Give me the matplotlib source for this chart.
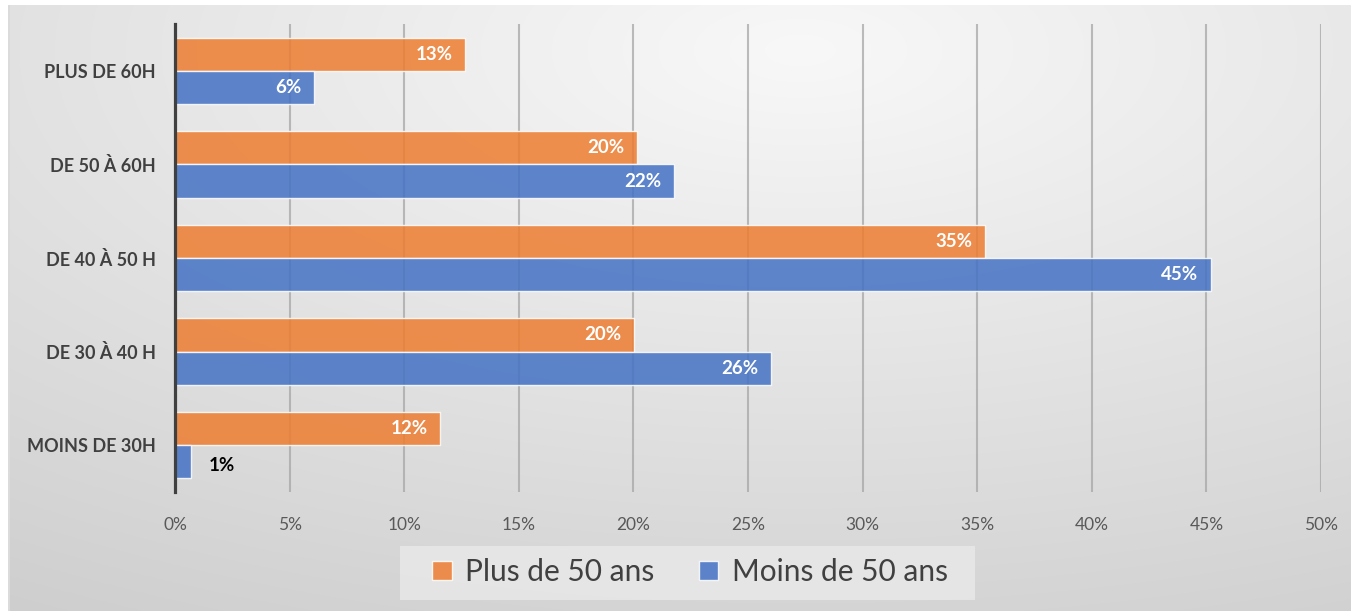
import numpy as np
import matplotlib
matplotlib.use("Agg")
import matplotlib.pyplot as plt
from matplotlib.patches import Rectangle, Patch

categories = ["PLUS DE 60H", "DE 50 À 60H", "DE 40 À 50 H", "DE 30 À 40 H", "MOINS DE 30H"]
plus50 = [12.65, 20.16, 35.34, 20.03, 11.56]
moins50 = [6.07, 21.77, 45.2, 26.0, 0.70]
plus50_labels = ["13%", "20%", "35%", "20%", "12%"]
moins50_labels = ["6%", "22%", "45%", "26%", "1%"]
series_names = ["Plus de 50 ans", "Moins de 50 ans"]
xticks = [0, 5, 10, 15, 20, 25, 30, 35, 40, 45, 50]

plt.rcParams['font.family'] = ['Lato', 'DejaVu Sans']

W, H = 1351, 611
fig = plt.figure(figsize=(W / 100, H / 100), dpi=100)

# background gradient
bg = fig.add_axes([0, 0, 1, 1], zorder=-10)
yy, xx = np.mgrid[0:H, 0:W]
d = np.sqrt(((xx - 800) / 1420.0) ** 2 + ((yy - 50) / 632.0) ** 2)
val = np.clip(248 - 40 * d, 0, 255) / 255.0
val[:, :8] = 1.0
val[:5, :] = 1.0
val[5:, 8:10] = 0.86
img = np.dstack([val, val, val])
bg.imshow(img, aspect='auto', extent=[0, W, H, 0], interpolation='bilinear')
bg.set_xlim(0, W)
bg.set_ylim(H, 0)
bg.axis('off')

ax = fig.add_axes([175 / W, 1 - 492 / H, (1321 - 175) / W, (492 - 24) / H])
ax.patch.set_alpha(0)

y = np.arange(len(categories))
h = 0.355
orange = '#ED7D31'
blue = '#4472C4'
ax.barh(y - h / 2, plus50, height=h, color=orange, alpha=0.85,
        edgecolor=(1, 1, 1, 0.45), linewidth=1.0, zorder=3)
ax.barh(y + h / 2, moins50, height=h, color=blue, alpha=0.85,
        edgecolor=(1, 1, 1, 0.45), linewidth=1.0, zorder=3)

ax.set_xlim(0, 50)
ax.set_ylim(len(categories) - 0.5, -0.5)
ax.set_xticks(xticks)
ax.set_xticklabels([f"{t}%" for t in xticks], fontsize=12.5, color='#595959')
ax.set_yticks(y)
ax.set_yticklabels(categories, fontsize=13, fontweight='bold', color='#404040')
ax.tick_params(axis='x', length=0, pad=18)
ax.tick_params(axis='y', length=0, pad=14)

ax.grid(axis='x', color='#a6a6a6', linewidth=1.5, alpha=0.75, zorder=1)
ax.grid(axis='y', visible=False)
for s in ['top', 'right', 'bottom']:
    ax.spines[s].set_visible(False)
ax.spines['left'].set_color('#404040')
ax.spines['left'].set_linewidth(2.3)
ax.spines['left'].set_zorder(4)

# data labels
for yi, v, lab in zip(y, plus50, plus50_labels):
    ax.annotate(lab, (v, yi - h / 2), xytext=(-9, 0), textcoords='offset points',
                ha='right', va='center', fontsize=13.5, fontweight='bold', color='white', zorder=5)
for yi, v, lab in zip(y, moins50, moins50_labels):
    if v < 3:
        ax.annotate(lab, (v, yi + h / 2), xytext=(13, -3), textcoords='offset points',
                    ha='left', va='center', fontsize=13.5, fontweight='bold', color='black', zorder=5)
    else:
        ax.annotate(lab, (v, yi + h / 2), xytext=(-9, 0), textcoords='offset points',
                    ha='right', va='center', fontsize=13.5, fontweight='bold', color='white', zorder=5)

# legend box
fig.patches.append(Rectangle((400 / W, 1 - 600 / H), 575 / W, 54 / H, transform=fig.transFigure,
                             facecolor='#e8e8e8', edgecolor='none', alpha=0.85, zorder=1))
handles = [Patch(facecolor=orange, alpha=0.85, edgecolor=(1, 1, 1, 0.5)),
           Patch(facecolor=blue, alpha=0.85, edgecolor=(1, 1, 1, 0.5))]
fig.legend(handles, series_names, loc='center', bbox_to_anchor=(690 / W, 1 - 572 / H),
           ncol=2, frameon=False, fontsize=21.5, handlelength=0.65, handleheight=0.65,
           handletextpad=0.45, columnspacing=1.5, labelcolor='#404040')

fig.savefig('out.png', dpi=100)
